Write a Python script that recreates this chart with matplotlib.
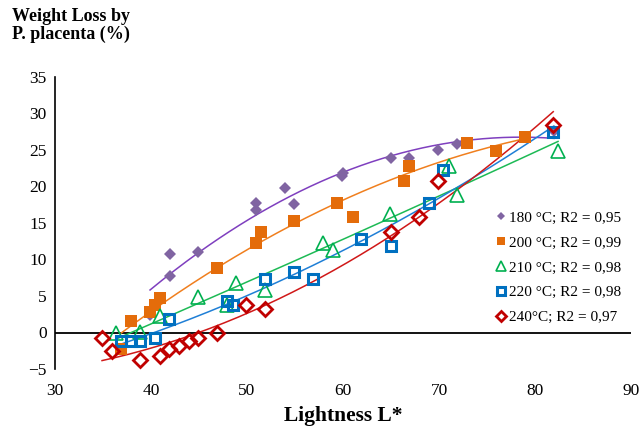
import numpy as np
import matplotlib
matplotlib.use("Agg")
import matplotlib.pyplot as plt

plt.rcParams['font.family'] = ['Liberation Serif', 'DejaVu Serif']

# ---- data ----
x180 = [39.9, 42.0, 42.0, 44.9, 50.9, 50.9, 54.0, 54.9, 59.9, 60.0, 65.0, 66.9, 69.9, 71.9, 82.0]
y180 = [2.4, 7.8, 10.8, 11.0, 17.8, 16.8, 19.8, 17.6, 21.5, 21.8, 23.9, 23.9, 25.0, 25.8, 27.6]

x200 = [36.9, 37.9, 39.9, 40.4, 40.9, 46.9, 50.9, 51.5, 54.9, 59.4, 61.0, 66.4, 66.9, 72.9, 75.9, 79.0]
y200 = [-2.2, 1.6, 2.8, 3.7, 4.7, 8.8, 12.3, 13.8, 15.3, 17.7, 15.8, 20.8, 22.8, 25.9, 24.9, 26.8]

x210 = [36.4, 38.9, 40.9, 44.9, 47.9, 48.9, 51.9, 57.9, 59.0, 64.9, 71.0, 71.9, 82.4]
y210 = [0.0, 0.1, 2.3, 4.8, 3.8, 6.8, 5.8, 12.3, 11.3, 16.3, 22.8, 18.8, 24.9]

x220 = [36.9, 37.9, 38.9, 40.4, 41.9, 47.9, 48.5, 51.9, 54.9, 56.9, 61.9, 65.0, 69.0, 70.4, 81.9]
y220 = [-1.2, -1.2, -1.2, -0.7, 1.8, 4.3, 3.8, 7.3, 8.3, 7.3, 12.8, 11.8, 17.8, 22.3, 27.4]

x240 = [34.9, 35.9, 38.9, 40.9, 41.9, 42.9, 44.0, 44.9, 46.9, 49.9, 51.9, 65.0, 67.9, 69.9, 81.9]
y240 = [-0.7, -2.6, -3.7, -3.2, -2.2, -1.8, -1.2, -0.7, -0.1, 3.8, 3.2, 13.8, 15.8, 20.8, 28.4]

labels = ["180 °C; R2 = 0,95", "200 °C; R2 = 0,99", "210 °C; R2 = 0,98",
          "220 °C; R2 = 0,98", "240°C; R2 = 0,97"]

xticks = [30, 40, 50, 60, 70, 80, 90]
yticks = [-5, 0, 5, 10, 15, 20, 25, 30, 35]

series = [
    (x180, y180, dict(marker='D', color='#8064A2', ms=6, mfc='#8064A2', mew=0), '#7F3FBF'),
    (x200, y200, dict(marker='s', color='#E46C0A', ms=8.5, mfc='#E46C0A', mew=0), '#F07F1E'),
    (x210, y210, dict(marker='^', color='#00B050', ms=9.5, mfc='none', mew=1.2), '#1DBA55'),
    (x220, y220, dict(marker='s', color='#0070C0', ms=7.5, mfc='none', mew=2.2), '#1F7FD6'),
    (x240, y240, dict(marker='D', color='#C00000', ms=7, mfc='none', mew=2.0), '#D01818'),
]

fig = plt.figure(figsize=(6.44, 4.29), dpi=100)
ax = fig.add_axes([55/644, 1-369/429, (631-55)/644, (369-77)/429])

for xs, ys, st, lc in series:
    xs = np.asarray(xs); ys = np.asarray(ys)
    coef = np.polyfit(xs, ys, 2)
    xx = np.linspace(xs.min(), xs.max(), 200)
    ax.plot(xx, np.polyval(coef, xx), color=lc, lw=1.1, zorder=2)

handles = []
for (xs, ys, st, lc), lab in zip(series, labels):
    h, = ax.plot(xs, ys, ls='none', zorder=3, label=lab, **st)
    handles.append(h)

ax.set_xlim(30, 90)
ax.set_ylim(-5, 35)
ax.set_xticks(xticks)
ax.set_yticks(yticks)
ax.tick_params(length=0, labelsize=12.5, pad=6)
ax.tick_params(axis='x', pad=10)
for s in ['top', 'right', 'bottom']:
    ax.spines[s].set_visible(False)
ax.spines['left'].set_linewidth(1.2)
ax.axhline(0, color='black', lw=1.3, zorder=1)

ax.set_xlabel("Lightness L*", fontsize=15.5, fontweight='bold', labelpad=5)
fig.text(12/644, 1-8/429, "Weight Loss by\nP. placenta (%)", fontsize=13,
         fontweight='bold', ha='left', va='top', linespacing=1.05)

leg = ax.legend(handles=handles, loc='upper left',
                bbox_to_anchor=((490-55)/576, 1-(205-77)/292),
                frameon=False, fontsize=11, handlelength=0.6, handletextpad=0.25,
                labelspacing=0.73, borderaxespad=0, markerscale=0.75)

fig.savefig("out.png", dpi=100)
